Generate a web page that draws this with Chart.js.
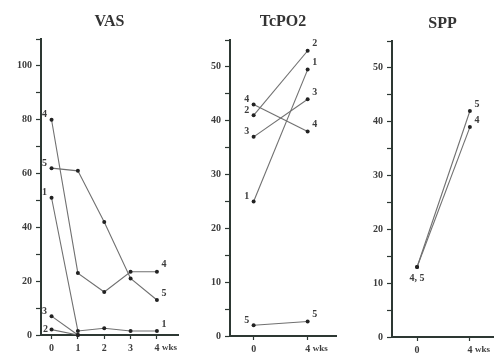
<!DOCTYPE html>
<html>
<head>
<meta charset="utf-8">
<script src="https://cdn.jsdelivr.net/npm/chart.js@4.4.0/dist/chart.umd.min.js"></script>
<style>
body{margin:0;background:#fff;}
#wrap{position:relative;width:497px;height:356px;overflow:hidden;background:#fff;}
canvas{position:absolute;top:0;}
</style>
</head>
<body>
<div id="wrap">
<canvas id="vas" width="182" height="356" style="left:0px"></canvas>
<canvas id="tcpo" width="155" height="356" style="left:185px"></canvas>
<canvas id="spp" width="157" height="356" style="left:340px"></canvas>
</div>
<script>
// data
var vasWeeks = [0, 1, 2, 3, 4];
var vas1 = [51, 1.5, 2.5, 1.5, 1.5];
var vas2 = [2, 0, null, null, null];
var vas3 = [7, 0, null, null, null];
var vas4 = [80, 23, 16, 23.5, 23.5];
var vas5 = [62, 61, 42, 21, 13];

var tcpoWeeks = [0, 4];
var tcpo1 = [25, 49.5];
var tcpo2 = [41, 53];
var tcpo3 = [37, 44];
var tcpo4 = [43, 38];
var tcpo5 = [2, 2.7];

var sppWeeks = [0, 4];
var spp4 = [13, 39];
var spp5 = [13, 42];

var vasTicks = [0, 20, 40, 60, 80, 100];
var tcpoTicks = [0, 10, 20, 30, 40, 50];
var sppTicks = [0, 10, 20, 30, 40, 50];

var axisColor = '#2d3833';
var textColor = '#3c3c3c';
var lineColor = '#707070';
var serif = '"Liberation Serif", "DejaVu Serif", serif';

// where the little series numbers sit next to a point
var labelOffsets = {
  left: [-7, -5],
  w: [-6, 0],
  right: [7, -7],
  below: [0, 11]
};

function toPoints(weeks, vals) {
  return weeks.map(function(w, i){ return {x: w, y: vals[i]}; });
}

function series(weeks, vals, startLabel, endLabel, startPos) {
  return {
    data: toPoints(weeks, vals),
    startLabel: startLabel,
    endLabel: endLabel,
    startPos: startPos || 'left',
    borderColor: lineColor,
    borderWidth: 1.1,
    pointRadius: 2,
    pointBackgroundColor: '#222',
    pointBorderColor: '#222',
    pointBorderWidth: 0,
    tension: 0,
    clip: false
  };
}

var pointLabels = {
  id: 'pointLabels',
  afterDatasetsDraw: function(chart) {
    var ctx = chart.ctx;
    ctx.save();
    ctx.fillStyle = textColor;
    ctx.font = 'bold 10px ' + serif;
    ctx.textAlign = 'center';
    ctx.textBaseline = 'middle';
    chart.data.datasets.forEach(function(ds, i) {
      var meta = chart.getDatasetMeta(i);
      var pts = meta.data.filter(function(p, j){ return ds.data[j].y !== null; });
      if (!pts.length) return;
      if (ds.startLabel) {
        var o = labelOffsets[ds.startPos];
        ctx.fillText(ds.startLabel, pts[0].x + o[0], pts[0].y + o[1]);
      }
      if (ds.endLabel) {
        var e = labelOffsets.right;
        var last = pts[pts.length - 1];
        ctx.fillText(ds.endLabel, last.x + e[0], last.y + e[1]);
      }
    });
    // "wks" after the last week tick
    var xs = chart.scales.x;
    ctx.font = 'bold 9px ' + serif;
    ctx.textAlign = 'left';
    ctx.fillText('wks', xs.getPixelForValue(4) + 5, xs.top + 13);
    ctx.restore();
  }
};

function makeChart(id, title, datasets, o) {
  var yTickVals = [];
  for (var v = 0; v <= o.yMax; v += o.yStep) yTickVals.push(v);
  return new Chart(document.getElementById(id), {
    type: 'line',
    data: { datasets: datasets },
    plugins: [pointLabels],
    options: {
      responsive: false,
      animation: false,
      devicePixelRatio: 1,
      layout: { padding: 0 },
      plugins: {
        legend: { display: false },
        tooltip: { enabled: false },
        title: {
          display: true,
          text: title,
          fullSize: false,
          color: '#333',
          font: { family: serif, size: 16, weight: 'bold', lineHeight: 1 },
          padding: { top: o.titleTop, bottom: o.titleBottom }
        }
      },
      scales: {
        x: {
          type: 'linear',
          min: o.xMin,
          max: o.xMax,
          afterBuildTicks: function(s){ s.ticks = o.xTicks.map(function(t){ return {value: t}; }); },
          afterFit: function(s){ s.height = o.xHeight; },
          border: { display: true, color: axisColor, width: 2 },
          grid: { display: true, drawOnChartArea: false, drawTicks: true, tickLength: 4, tickColor: axisColor, tickWidth: 1.2 },
          ticks: {
            autoSkip: false, maxRotation: 0, padding: 3,
            color: textColor,
            font: { family: serif, size: 10, weight: 'bold' },
            callback: function(v){ return String(v); }
          }
        },
        y: {
          type: 'linear',
          min: 0,
          max: o.yMax,
          afterBuildTicks: function(s){ s.ticks = yTickVals.map(function(t){ return {value: t}; }); },
          afterFit: function(s){ s.width = o.yWidth; },
          border: { display: true, color: axisColor, width: 2 },
          grid: { display: true, drawOnChartArea: false, drawTicks: true, tickLength: 5, tickColor: axisColor, tickWidth: 1.2 },
          ticks: {
            autoSkip: false, padding: 4,
            color: textColor,
            font: { family: serif, size: 10, weight: 'bold' },
            callback: function(v){ return o.yLabels.indexOf(v) >= 0 ? String(v) : ''; }
          }
        }
      }
    }
  });
}

makeChart('vas', 'VAS', [
  series(vasWeeks, vas1, '1', '1'),
  series(vasWeeks, vas2, '2', null, 'w'),
  series(vasWeeks, vas3, '3', null),
  series(vasWeeks, vas4, '4', '4'),
  series(vasWeeks, vas5, '5', '5')
], { xMin: -0.4, xMax: 4.8, xTicks: vasWeeks, yMax: 110, yStep: 10, yLabels: vasTicks,
     yWidth: 41, xHeight: 21, titleTop: 14, titleBottom: 9 });

makeChart('tcpo', 'TcPO2', [
  series(tcpoWeeks, tcpo1, '1', '1'),
  series(tcpoWeeks, tcpo2, '2', '2'),
  series(tcpoWeeks, tcpo3, '3', '3'),
  series(tcpoWeeks, tcpo4, '4', '4'),
  series(tcpoWeeks, tcpo5, '5', '5')
], { xMin: -1.75, xMax: 6.1, xTicks: tcpoWeeks, yMax: 55, yStep: 5, yLabels: tcpoTicks,
     yWidth: 45, xHeight: 20, titleTop: 14, titleBottom: 10 });

makeChart('spp', 'SPP', [
  series(sppWeeks, spp4, '4, 5', '4', 'below'),
  series(sppWeeks, spp5, null, '5')
], { xMin: -1.9, xMax: 5.75, xTicks: sppWeeks, yMax: 55, yStep: 5, yLabels: sppTicks,
     yWidth: 52, xHeight: 19, titleTop: 16, titleBottom: 9 });
</script>
</body>
</html>
